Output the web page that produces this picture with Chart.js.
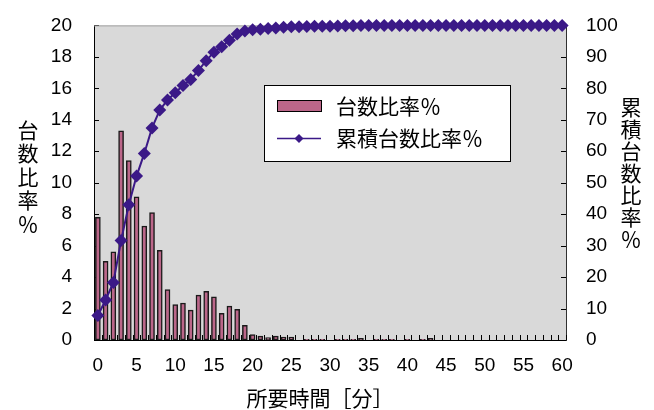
<!DOCTYPE html>
<html>
<head>
<meta charset="utf-8">
<script src="https://cdn.jsdelivr.net/npm/chart.js@4"></script>
<style>
html, body { margin: 0; padding: 0; background: #fff; }
#wrap { width: 654px; height: 410px; }
</style>
</head>
<body>
<div id="wrap"><canvas id="chart" width="654" height="410"></canvas></div>
<script>
// Data
const minutes = ['0','1','2','3','4','5','6','7','8','9','10','11','12','13','14','15','16','17','18','19','20',
    '21','22','23','24','25','26','27','28','29','30','31','32','33','34','35','36','37','38','39','40',
    '41','42','43','44','45','46','47','48','49','50','51','52','53','54','55','56','57','58','59','60'];

const ratio = [7.8, 5.0, 5.6, 13.3, 11.4, 9.1, 7.25, 8.1, 5.7, 3.2, 2.25, 2.35, 1.9, 2.85, 3.1, 2.75, 1.7, 2.15, 1.95, 0.93, 0.35,
    0.25, 0.15, 0.25, 0.18, 0.18, 0, 0.05, 0.05, 0.05, 0, 0.05, 0.05, 0.05, 0.1, 0, 0.05, 0.05, 0.05, 0, 0.05,
    0, 0.05, 0.1, 0, 0, 0, 0, 0, 0, 0, 0, 0, 0, 0, 0, 0, 0, 0, 0, 0];

const cumulative = [7.8, 12.7, 18.3, 31.6, 43.0, 52.1, 59.3, 67.4, 73.1, 76.3, 78.6, 80.9, 82.8, 85.7, 88.8, 91.5, 93.2, 95.3, 97.3, 98.2, 98.6,
    98.8, 99.0, 99.2, 99.4, 99.6, 99.6, 99.65, 99.7, 99.75, 99.75, 99.8, 99.85, 99.9, 100, 100, 100, 100, 100, 100, 100,
    100, 100, 100, 100, 100, 100, 100, 100, 100, 100, 100, 100, 100, 100, 100, 100, 100, 100, 100, 100];

const xLabelEvery = 5;
const leftTitle = '台数比率％';
const rightTitle = '累積台数比率％';
const xTitle = '所要時間［分］';

const barColor = '#bb6689';
const lineColor = '#3b1987';
const cjkFont = '"Noto Sans CJK JP", sans-serif';
const numFont = '"Liberation Sans", Arial, sans-serif';

// Plot frame, inner tick marks, titles and legend
const frame = {
    id: 'frame'
    ,beforeDraw(chart)
    {
        const {ctx, chartArea: a} = chart;
        ctx.save();
        ctx.fillStyle = '#d9d9d9';
        ctx.fillRect(a.left, a.top, a.right - a.left, a.bottom - a.top);
        ctx.restore();
    }
    ,beforeDatasetsDraw(chart)
    {
        const {ctx, chartArea: a, scales} = chart;
        ctx.save();
        ctx.lineWidth = 1;
        ctx.strokeStyle = '#000';
        ctx.beginPath();
        // x ticks between categories
        const xs = scales.x;
        const half = (xs.getPixelForValue(1) - xs.getPixelForValue(0)) / 2;
        for(let i = 0; i <= minutes.length; i++)
        {
            const px = Math.round(xs.getPixelForValue(i) - half) + 0.5;
            ctx.moveTo(px, a.bottom);
            ctx.lineTo(px, a.bottom - 5);
        }
        scales.y.ticks.forEach((t) =>
        {
            const py = Math.round(scales.y.getPixelForValue(t.value)) + 0.5;
            ctx.moveTo(a.left, py);
            ctx.lineTo(a.left + 5, py);
        });
        scales.y1.ticks.forEach((t) =>
        {
            const py = Math.round(scales.y1.getPixelForValue(t.value)) + 0.5;
            ctx.moveTo(a.right, py);
            ctx.lineTo(a.right - 5, py);
        });
        ctx.stroke();
        // top border
        ctx.strokeStyle = '#a0a0a0';
        ctx.beginPath();
        ctx.moveTo(a.left, a.top + 0.5);
        ctx.lineTo(a.right, a.top + 0.5);
        ctx.stroke();
        ctx.restore();
    }
    ,afterDraw(chart)
    {
        const {ctx} = chart;
        ctx.save();
        ctx.fillStyle = '#000';
        ctx.textAlign = 'center';
        ctx.textBaseline = 'middle';
        ctx.font = '21px ' + cjkFont;

        // vertical titles, one glyph per line
        [...leftTitle].forEach((ch, i) => ctx.fillText(ch, 28, 130 + i * 23.5));
        [...rightTitle].forEach((ch, i) => ctx.fillText(ch, 631, 107 + i * 22));
        ctx.fillText(xTitle, 320, 398);

        // legend
        const lx = 264, ly = 85, lw = 246, lh = 76;
        ctx.fillStyle = '#fff';
        ctx.fillRect(lx, ly, lw, lh);
        ctx.strokeStyle = '#000';
        ctx.lineWidth = 1;
        ctx.strokeRect(lx + 0.5, ly + 0.5, lw, lh);

        ctx.fillStyle = barColor;
        ctx.fillRect(277, 100, 44, 11);
        ctx.strokeRect(277.5, 100.5, 44, 11);

        ctx.strokeStyle = lineColor;
        ctx.lineWidth = 1.5;
        ctx.beginPath();
        ctx.moveTo(277, 138.5);
        ctx.lineTo(321, 138.5);
        ctx.stroke();
        ctx.fillStyle = lineColor;
        ctx.beginPath();
        ctx.moveTo(299, 134);
        ctx.lineTo(303.5, 138.5);
        ctx.lineTo(299, 143);
        ctx.lineTo(294.5, 138.5);
        ctx.closePath();
        ctx.fill();

        ctx.fillStyle = '#000';
        ctx.textAlign = 'left';
        ctx.fillText(chart.data.datasets[0].label, 336, 106);
        ctx.fillText(chart.data.datasets[1].label, 336, 138);
        ctx.restore();
    }
};

new Chart(document.getElementById('chart'),
{
    type: 'bar'
    ,data: {
        labels: minutes
        ,datasets:
        [
            {
                label: '台数比率％'
                ,data: ratio
                ,backgroundColor: barColor
                ,borderColor: '#1a1a1a'
                ,borderWidth: 1.5
                ,borderSkipped: false
                ,barThickness: 5
                ,yAxisID: 'y'
                ,order: 2
            }
            ,{
                type: 'line'
                ,label: '累積台数比率％'
                ,data: cumulative
                ,borderColor: lineColor
                ,backgroundColor: lineColor
                ,borderWidth: 2
                ,pointStyle: 'rectRot'
                ,pointRadius: 6.5
                ,pointBorderWidth: 0
                ,tension: 0
                ,clip: false
                ,yAxisID: 'y1'
                ,order: 1
            }
        ]
    }
    ,options:
    {
        responsive: false
        ,animation: false
        ,devicePixelRatio: 1
        ,layout: {padding: {top: 17, left: 0, right: 0, bottom: 0}}
        ,plugins: {legend: {display: false}, tooltip: {enabled: false}}
        ,scales:
        {
            x: {
                grid: {display: false}
                ,border: {display: true, color: '#000', width: 1}
                ,ticks: {
                    autoSkip: false
                    ,maxRotation: 0
                    ,padding: 6
                    ,color: '#000'
                    ,font: {family: numFont, size: 19}
                    ,callback: (v, i) => (i % xLabelEvery === 0 ? minutes[i] : '')
                }
                ,afterFit: (s) => { s.height = 70; }
            }
            ,y: {
                position: 'left'
                ,min: 0
                ,max: 20
                ,grid: {display: false}
                ,border: {display: true, color: '#000', width: 1}
                ,ticks: {stepSize: 2, padding: 14, color: '#000', font: {family: numFont, size: 19}}
                ,afterFit: (s) => { s.width = 94; }
            }
            ,y1: {
                position: 'right'
                ,min: 0
                ,max: 100
                ,grid: {display: false}
                ,border: {display: true, color: '#303030', width: 1}
                ,ticks: {stepSize: 10, padding: 12, color: '#000', font: {family: numFont, size: 19}}
                ,afterFit: (s) => { s.width = 88; }
            }
        }
    }
    ,plugins: [frame]
});
</script>
</body>
</html>
